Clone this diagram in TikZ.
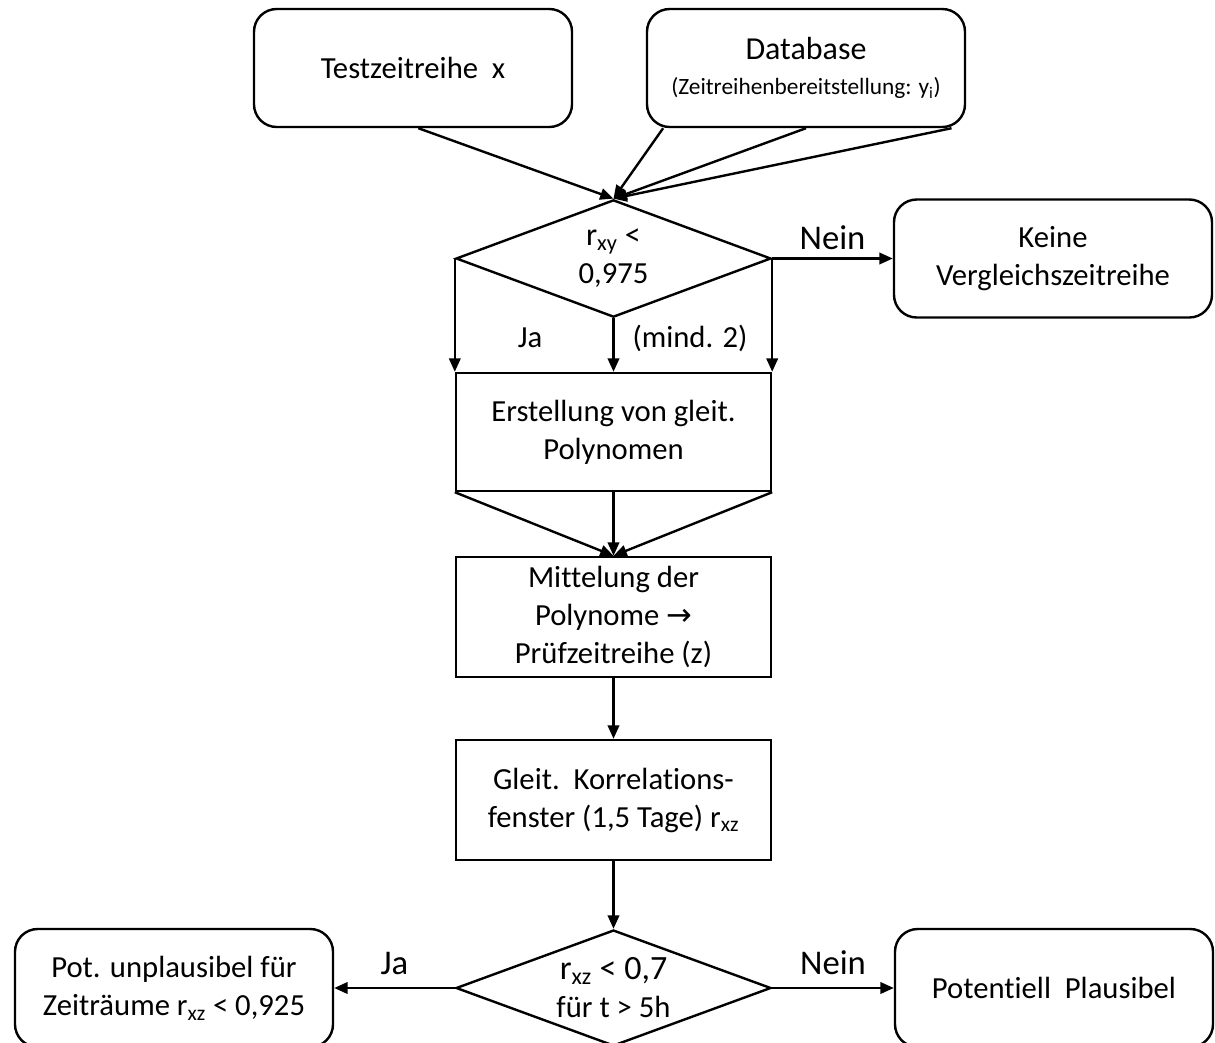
\documentclass[tikz,border=0pt]{standalone}
\usepackage{fontspec}
\setmainfont{Carlito}[Ligatures=NoCommon]
\newfontfamily\arrowfont{DejaVu Sans}
\usetikzlibrary{shapes.geometric,arrows.meta}

\begin{document}
\begin{tikzpicture}[x=0.75pt,y=0.75pt,yscale=-1,xscale=1,
    every node/.style={font=\fontsize{23}{28.5}\selectfont},
    startbox/.style={draw, line width=1.8pt, rounded corners=17pt, minimum width=238.5pt, minimum height=88.5pt, align=center},
    procbox/.style={draw, line width=1.8pt, minimum width=236.25pt, minimum height=88.5pt, align=center},
    decision/.style={draw, line width=1.8pt, diamond, aspect=2.6, inner sep=0pt, minimum width=236.25pt, minimum height=88pt, align=center},
    flow/.style={line width=1.8pt, -{Triangle[length=10pt,width=8.5pt]}},
    answer/.style={font=\fontsize{26}{30}\selectfont}
  ]
    \useasboundingbox (0,0) rectangle (1215,1043);

    % Inputs
    \node[startbox] (test) at (413,68) {Testzeitreihe\ \ x};
    \node[startbox] (datab) at (806,68) {{\fontsize{24}{26}\selectfont Database}\\[-2pt]{\fontsize{17.5}{20}\selectfont (Zeitreihenbereitstellung: y\textsubscript{i})}};

    % First decision
    \node[decision] (corr) at (613.5,258.5) {\fontsize{24}{29}\selectfont r\textsubscript{xy} <\\0,975};
    \node[startbox] (keine) at (1053,258.5) {Keine\\Vergleichszeitreihe};

    % Process chain
    \node[procbox] (poly) at (613.5,432) {Erstellung von gleit.\\Polynomen};
    \node[procbox, minimum height=90pt] (mittel) at (613.5,617) {\fontsize{23}{26}\selectfont Mittelung der\\Polynome {\arrowfont →}\\Prüfzeitreihe (z)};
    \node[procbox, minimum height=90pt] (fenster) at (613.5,800) {Gleit.\ \ Korrelations-\\fenster (1,5 Tage) r\textsubscript{xz}};

    % Second decision
    \node[decision, minimum height=87pt] (check) at (613.5,988) {\fontsize{25.5}{30}\selectfont r\textsubscript{xz} < 0,7\\für t > 5h};
    \node[startbox] (unpl) at (174,988) {Pot. unplausibel für\\Zeiträume r\textsubscript{xz} < 0,925};
    \node[startbox] (plaus) at (1054,988) {Potentiell\ \ Plausibel};

    % Connectors
    \draw[flow] ([xshift=4pt]test.south) -- (corr.north);
    \draw[flow] ([xshift=13pt]datab.south west) -- (corr.north);
    \draw[flow] (datab.south) -- (corr.north);
    \draw[flow] ([xshift=-11pt]datab.south east) -- (corr.north);

    \draw[flow] (corr.east) -- node[answer, above=2pt] (nein1) {Nein} (keine.west);
    \draw[flow] (corr.west) -- (poly.north west);
    \draw[flow] (corr.south) -- (poly.north);
    \draw[flow] (corr.east) -- (poly.north east);
    \node (ja1) at (530,338) {Ja};
    \node (mind) at (690,338) {(mind. 2)};

    \draw[flow] (poly.south west) -- (mittel.north);
    \draw[flow] (poly.south) -- (mittel.north);
    \draw[flow] (poly.south east) -- (mittel.north);
    \draw[flow] (mittel.south) -- (fenster.north);
    \draw[flow] (fenster.south) -- (check.north);

    \draw[flow] (check.west) -- node[answer, above=6pt] (ja2) {Ja} (unpl.east);
    \draw[flow] (check.east) -- node[answer, above=6pt] (nein2) {Nein} (plaus.west);
\end{tikzpicture}
\end{document}
